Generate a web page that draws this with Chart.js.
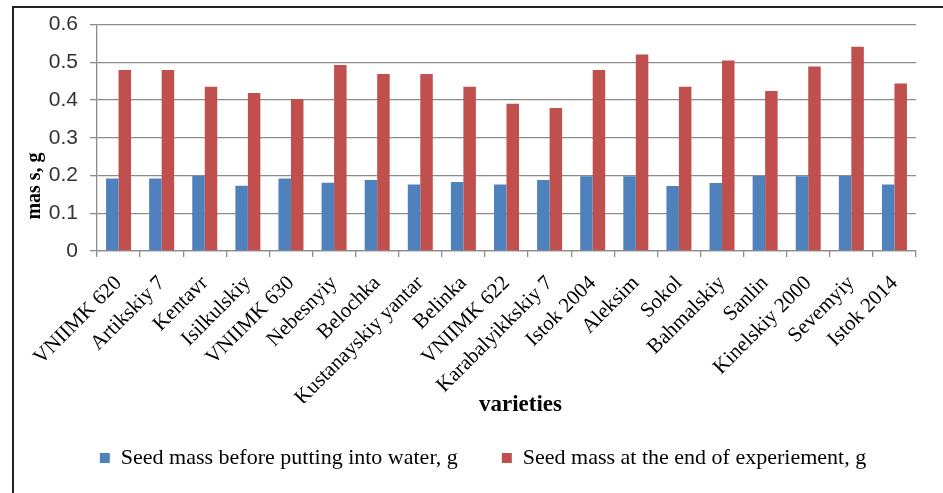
<!DOCTYPE html>
<html>
<head>
<meta charset="utf-8">
<script src="https://cdn.jsdelivr.net/npm/chart.js@4.4.0/dist/chart.umd.min.js"></script>
<style>
  body { margin: 0; background: #fff; }
  #wrap { position: relative; width: 943px; height: 493px; overflow: hidden; }
  #frame { position: absolute; left: 12px; top: 6px; width: 1000px; height: 1000px;
           border-left: 2px solid #222; border-top: 2px solid #222; }
  canvas { position: absolute; left: 0; top: 0; }
</style>
</head>
<body>
<div id="wrap">
  <div id="frame"></div>
  <canvas id="grafico"></canvas>
</div>
<script>
// variedades
var varieties = ["VNIIMK 620", "Artikskiy 7", "Kentavr", "Isilkulskiy", "VNIIMK 630",
    "Nebesnyiy", "Belochka", "Kustanayskiy yantar", "Belinka", "VNIIMK 622",
    "Karabalyikkskiy 7", "Istok 2004", "Aleksim", "Sokol", "Bahmalskiy",
    "Sanlin", "Kinelskiy 2000", "Sevemyiy", "Istok 2014"];

// massa antes de colocar na agua
var massBefore = [0.192, 0.192, 0.199, 0.173, 0.192, 0.181, 0.188, 0.176, 0.183, 0.176,
    0.188, 0.198, 0.198, 0.172, 0.180, 0.199, 0.198, 0.199, 0.176];

// massa no fim do experimento
var massAfter = [0.480, 0.480, 0.435, 0.419, 0.403, 0.493, 0.469, 0.469, 0.435, 0.390,
    0.379, 0.480, 0.521, 0.435, 0.505, 0.424, 0.489, 0.541, 0.444];

var yTicks = [0, 0.1, 0.2, 0.3, 0.4, 0.5, 0.6];

var gridColor = '#8c8c8c';

// titulos dos eixos desenhados a mao
var axisTitles = {
    id: 'axisTitles',
    afterLayout: (chart) => {
        // legenda um pouco para a direita, como no original
        chart.legend.left += 25;
        chart.legend.right += 25;
    },
    afterDraw: (chart) => {
        var ctx = chart.ctx;
        var area = chart.chartArea;
        ctx.save();
        ctx.fillStyle = '#000';
        ctx.textAlign = 'center';
        ctx.textBaseline = 'middle';
        ctx.font = 'bold 23px "Liberation Serif"';
        ctx.fillText('varieties', (area.left + area.right) / 2 + 14, 405);
        ctx.font = 'bold 20px "Liberation Serif"';
        ctx.translate(35, 186);
        ctx.rotate(-Math.PI / 2);
        ctx.fillText('mas s, g', 0, 0);
        ctx.restore();
    }
};

var grafico = new Chart(document.getElementById("grafico"), {
    type: 'bar',
    data: {
        labels: varieties,
        datasets: [{
            label: "Seed mass before putting into water, g",
            data: massBefore,
            backgroundColor: '#4f81bd'
        }, {
            label: "Seed mass at the end of experiement, g",
            data: massAfter,
            backgroundColor: '#c0504d'
        }]
    },
    options: {
        responsive: true,
        maintainAspectRatio: false,
        animation: false,
        layout: {
            padding: { left: 0, right: 27, top: 21, bottom: 14 }
        },
        datasets: {
            bar: { categoryPercentage: 0.58, barPercentage: 1 }
        },
        plugins: {
            tooltip: { enabled: false },
            legend: {
                position: 'bottom',
                labels: {
                    boxWidth: 10,
                    boxHeight: 10,
                    padding: 44,
                    color: '#000',
                    font: { family: '"Liberation Serif"', size: 22 }
                }
            }
        },
        scales: {
            x: {
                grid: { drawOnChartArea: false, drawTicks: true, tickLength: 6, color: gridColor, lineWidth: 1.3 },
                border: { color: gridColor, width: 1.3 },
                ticks: {
                    minRotation: 45,
                    maxRotation: 45,
                    autoSkip: false,
                    padding: 14,
                    color: '#000',
                    font: { family: '"Liberation Serif"', size: 21 }
                },
                afterFit: (s) => { s.height = 152; }
            },
            y: {
                min: 0,
                max: 0.6,
                afterBuildTicks: (s) => { s.ticks = yTicks.map(v => ({ value: v })); },
                grid: { color: gridColor, lineWidth: 1.3, tickLength: 7 },
                border: { color: gridColor, width: 1.3 },
                ticks: {
                    padding: 12,
                    color: '#333',
                    font: { family: '"Liberation Sans"', size: 21 },
                    callback: (v) => String(v)
                },
                afterFit: (s) => { s.width = 97; }
            }
        }
    },
    plugins: [axisTitles]
});
</script>
</body>
</html>
